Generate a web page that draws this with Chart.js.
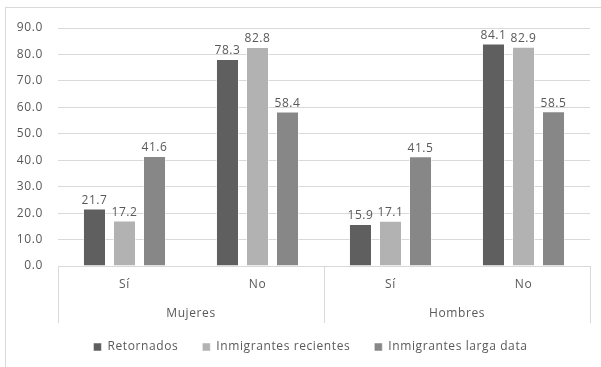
<!DOCTYPE html>
<html lang="es">
<head>
<meta charset="utf-8">
<title>Retornados e inmigrantes por sexo</title>
<script src="https://cdn.jsdelivr.net/npm/chart.js@4.4.1/dist/chart.umd.min.js"></script>
<style>
  html, body { margin: 0; padding: 0; background: #fff; }
  .wrap { position: relative; width: 601px; height: 367px; overflow: hidden; }
  .frame {
    position: absolute; left: 5px; top: 7px; width: 700px; height: 500px;
    border-left: 1px solid #d9d9d9; border-top: 1px solid #d9d9d9;
    pointer-events: none;
  }
  canvas { position: absolute; left: 0; top: 0; }
</style>
</head>
<body>
<div class="wrap">
  <div class="frame"></div>
  <canvas id="chart" width="601" height="367"></canvas>
</div>
<script>
const answers = ['Sí', 'No', 'Sí', 'No'];
const groups = ['Mujeres', 'Hombres'];
const yTicks = [0, 10, 20, 30, 40, 50, 60, 70, 80, 90];

const retornados = [21.7, 78.3, 15.9, 84.1];
const recientes = [17.2, 82.8, 17.1, 82.9];
const largaData = [41.6, 58.4, 41.5, 58.5];

const textColor = '#595959';
const lineColor = '#d9d9d9';
const fontFamily = '"Open Sans", "Noto Sans", sans-serif';
const spacing = '0.6px';

// slightly looser text tracking for everything on the canvas
const tracking = {
  id: 'tracking',
  beforeUpdate(chart) { chart.ctx.letterSpacing = spacing; },
  beforeDraw(chart) { chart.ctx.letterSpacing = spacing; }
};

// nudge the legend a little to the right
const legendShift = {
  id: 'legendShift',
  afterLayout(chart) {
    chart.legend.left += 7;
    chart.legend.right += 7;
  }
};

// value labels above each bar
const barLabels = {
  id: 'barLabels',
  afterDatasetsDraw(chart) {
    const ctx = chart.ctx;
    ctx.save();
    ctx.font = `12px ${fontFamily}`;
    ctx.fillStyle = textColor;
    ctx.textAlign = 'center';
    ctx.textBaseline = 'bottom';
    chart.data.datasets.forEach((ds, i) => {
      chart.getDatasetMeta(i).data.forEach((bar, j) => {
        ctx.fillText(ds.data[j].toFixed(1), bar.x, bar.y - 2);
      });
    });
    ctx.restore();
  }
};

// group names and the separators between Mujeres / Hombres
const groupAxis = {
  id: 'groupAxis',
  afterDraw(chart) {
    const x = chart.scales.x;
    const x2 = chart.scales.x2;
    const mid = (x.getPixelForValue(1) + x.getPixelForValue(2)) / 2;
    const ctx = chart.ctx;
    ctx.save();
    ctx.strokeStyle = lineColor;
    ctx.lineWidth = 1;
    [x.left, mid, x.right].forEach((px) => {
      const p = Math.round(px) + 0.5;
      ctx.beginPath();
      ctx.moveTo(p, x.top);
      ctx.lineTo(p, x2.bottom + 6);
      ctx.stroke();
    });
    ctx.font = `12px ${fontFamily}`;
    ctx.fillStyle = textColor;
    ctx.textAlign = 'center';
    ctx.textBaseline = 'middle';
    groups.forEach((g, i) => {
      ctx.fillText(g, x2.getPixelForValue(i), x2.top + 14);
    });
    ctx.restore();
  }
};

new Chart(document.getElementById('chart'), {
  type: 'bar',
  data: {
    labels: answers,
    datasets: [
      { label: 'Retornados', data: retornados, backgroundColor: '#5f5f5f' },
      { label: 'Inmigrantes recientes', data: recientes, backgroundColor: '#b2b2b2' },
      { label: 'Inmigrantes larga data', data: largaData, backgroundColor: '#878787' }
    ]
  },
  options: {
    responsive: false,
    animation: false,
    devicePixelRatio: 1,
    categoryPercentage: 0.677,
    barPercentage: 0.767,
    borderColor: 'rgba(255,255,255,0.5)',
    borderWidth: 1,
    layout: { padding: { left: 17, right: 11, top: 28, bottom: 4 } },
    scales: {
      x: {
        grid: { display: false },
        border: { display: true, color: lineColor },
        ticks: { color: textColor, font: { family: fontFamily, size: 12 }, padding: 3, maxRotation: 0 },
        afterFit: (scale) => { scale.height = 34; }
      },
      x2: {
        type: 'category',
        position: 'bottom',
        labels: groups,
        offset: true,
        grid: { display: false },
        border: { display: false },
        ticks: { display: false },
        afterFit: (scale) => { scale.height = 17; }
      },
      y: {
        min: 0,
        max: 90,
        afterBuildTicks: (scale) => { scale.ticks = yTicks.map((v) => ({ value: v })); },
        grid: { color: lineColor, drawTicks: false },
        border: { display: false },
        ticks: {
          color: textColor,
          font: { family: fontFamily, size: 12 },
          padding: 15,
          callback: (v) => Number(v).toFixed(1)
        },
        afterFit: (scale) => { scale.width = 41; }
      }
    },
    plugins: {
      legend: {
        position: 'bottom',
        labels: {
          color: textColor,
          font: { family: fontFamily, size: 12 },
          boxWidth: 8,
          boxHeight: 8,
          padding: 24
        }
      },
      tooltip: { enabled: false }
    }
  },
  plugins: [tracking, legendShift, barLabels, groupAxis]
});
</script>
</body>
</html>
